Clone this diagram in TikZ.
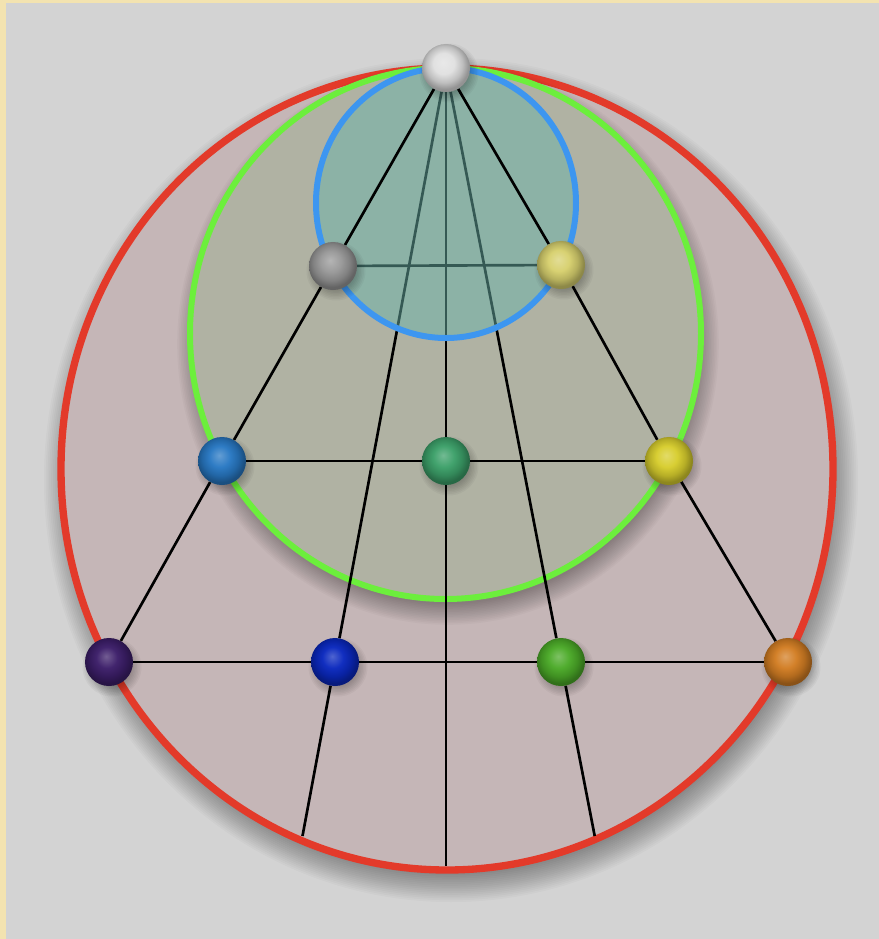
\documentclass[tikz,border=0pt]{standalone}
\usetikzlibrary{calc}
\pgfdeclarelayer{l0}
\pgfdeclarelayer{l1}
\pgfdeclarelayer{l2}
\pgfsetlayers{l0,l1,l2,main}
\definecolor{bgc}{HTML}{D3D3D3}
\definecolor{borderc}{HTML}{F3E3B0}
\definecolor{redfill}{HTML}{C5B6B7}
\definecolor{redring}{HTML}{E33A2A}
\definecolor{greenfill}{HTML}{B0B2A3}
\definecolor{greenring}{HTML}{6CEF3C}
\definecolor{bluefill}{RGB}{106,178,169}
\definecolor{bluering}{HTML}{3D96F0}
\definecolor{ballW}{HTML}{E0E0E0}
\definecolor{ballGray}{HTML}{989898}
\definecolor{ballLY}{HTML}{D7D06E}
\definecolor{ballB}{HTML}{2878C3}
\definecolor{ballG}{HTML}{3CA069}
\definecolor{ballY}{HTML}{D7CD2D}
\definecolor{ballP}{HTML}{3C1E69}
\definecolor{ballDB}{HTML}{0A28BE}
\definecolor{ballGG}{HTML}{4BAA28}
\definecolor{ballO}{HTML}{D27D23}
\colorlet{ballbase}{gray}
\pgfdeclareradialshading[ballbase]{softball}{\pgfqpoint{-3bp}{6bp}}{color(0bp)=(ballbase!72!white); color(11bp)=(ballbase!97!white); color(19bp)=(ballbase!85!black); color(25bp)=(ballbase!66!black); color(50bp)=(ballbase!55!black)}
\tikzset{
  ball/.style={circle, inner sep=0pt, minimum size=1.44cm, shade, shading=softball, /utils/exec={\colorlet{ballbase}{#1}}},
  ln/.style={line width=0.08cm, black},
  ringred/.style={draw=redring, line width=0.22cm},
  ringgreen/.style={draw=greenring, line width=0.18cm},
  ringblue/.style={draw=bluering, line width=0.18cm},
}
\begin{document}
\begin{tikzpicture}[x=0.03cm,y=-0.03cm]
\useasboundingbox (0,0) rectangle (879,939);
% balls (front layer)
\node[ball=ballW] (T) at (446,68) {};
\node[ball=ballGray] (ga) at (333,266) {};
\node[ball=ballLY] (ly) at (561,265) {};
\node[ball=ballB] (bl) at (222,461) {};
\node[ball=ballG] (gr) at (446,461) {};
\node[ball=ballY] (ye) at (669,461) {};
\node[ball=ballP] (pu) at (109,662) {};
\node[ball=ballDB] (db) at (335,662) {};
\node[ball=ballGG] (g2) at (561,662) {};
\node[ball=ballO] (or) at (788,662) {};
\coordinate (eL) at (302.5,836);
\coordinate (eM) at (446,866);
\coordinate (eR) at (594.7,836);
\begin{pgfonlayer}{l0}
\fill[bgc] (0,0) rectangle (879,939);
\fill[borderc] (0,0) rectangle (6,939);
\fill[borderc] (0,0) rectangle (879,3);
\foreach \k in {0,...,15} \fill[black,opacity=0.022] (451,480) ellipse ({380+\k*1.8} and {395+\k*1.8});
\fill[redfill] (447,469) ellipse (386 and 401);
\draw[ringred] (447,469) ellipse (386 and 401);
\foreach \k in {0,...,13} \fill[black,opacity=0.022] (448,344) ellipse ({250+\k*1.6} and {260+\k*1.6});
\fill[greenfill] (445.5,333.5) ellipse (255.5 and 265.5);
\draw[ringgreen] (445.5,333.5) ellipse (255.5 and 265.5);
\end{pgfonlayer}
\begin{pgfonlayer}{l1}
\draw[ln] (T) -- (gr) -- (eM);
\draw[ln] (T) -- (db) -- (eL);
\draw[ln] (T) -- (g2) -- (eR);
\draw[ln] (ga) -- (ly);
\draw[ln] (bl) -- (gr) -- (ye);
\draw[ln] (pu) -- (db) -- (g2) -- (or);
\end{pgfonlayer}
\begin{pgfonlayer}{l2}
\fill[bluefill,opacity=0.5] (446,203) ellipse (130 and 135);
\draw[ln] (T) -- (ga) -- (bl) -- (pu);
\draw[ln] (T) -- (ly) -- (ye) -- (or);
\draw[ringblue] (446,203) ellipse (130 and 135);
\foreach \n in {T,ga,ly,bl,gr,ye,pu,db,g2,or} {
  \foreach \k in {0,...,7} \fill[black,opacity=0.035] ($(\n)+(3,5)$) circle ({19+\k*1.5});
}
\end{pgfonlayer}
\end{tikzpicture}
\end{document}
